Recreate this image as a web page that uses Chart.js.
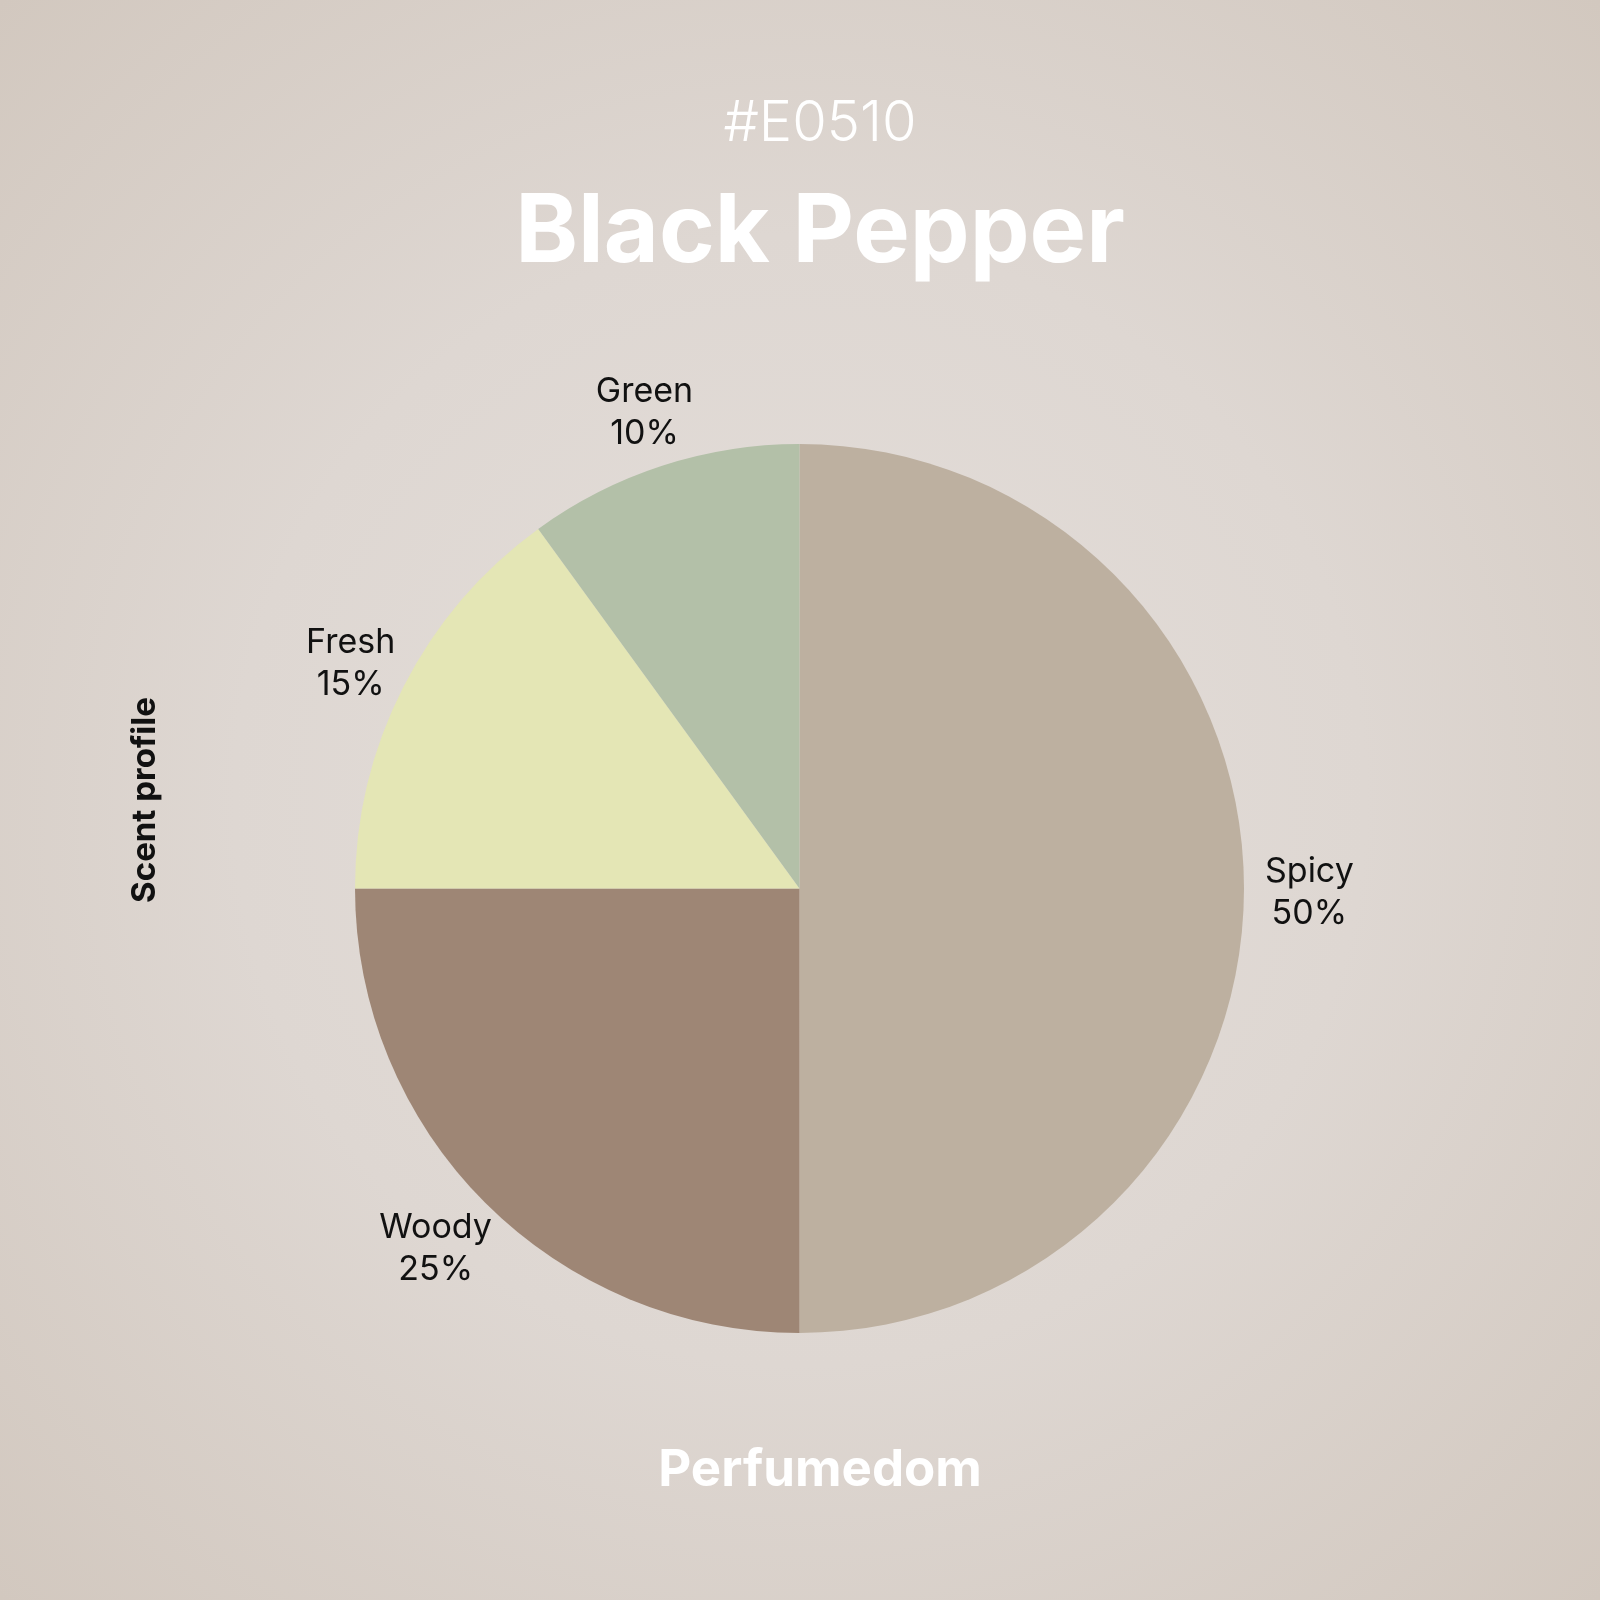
<!DOCTYPE html>
<html>
<head>
<meta charset="utf-8">
<script src="https://cdn.jsdelivr.net/npm/chart.js@4"></script>
<style>
  html, body { margin: 0; padding: 0; background: #ddd5cf; }
  #wrap { width: 1600px; height: 1600px; }
</style>
</head>
<body>
<div id="wrap"><canvas id="c" width="1600" height="1600"></canvas></div>
<script>
const categories = ["Spicy", "Woody", "Fresh", "Green"];
const values = [50, 25, 15, 10];
const sliceColors = ["#BDB0A0", "#9E8675", "#E4E6B5", "#B3C0A8"];
const codeText = "#E0510";
const titleText = "Black Pepper";
const axisText = "Scent profile";
const footerText = "Perfumedom";
const FONT = "Inter, 'Open Sans', sans-serif";

const bgPlugin = {
  id: "bg",
  beforeDraw(chart) {
    const { ctx, width, height } = chart;
    ctx.save();
    const g = ctx.createRadialGradient(800, 800, 0, 800, 800, 1130);
    g.addColorStop(0, "#E4DEDA");
    g.addColorStop(0.5, "#DED7D2");
    g.addColorStop(1, "#D2C8BF");
    ctx.fillStyle = g;
    ctx.fillRect(0, 0, width, height);
    ctx.restore();
  }
};

const textPlugin = {
  id: "texts",
  afterDraw(chart) {
    const { ctx } = chart;
    ctx.save();
    ctx.textAlign = "center";
    ctx.textBaseline = "alphabetic";
    ctx.fillStyle = "#FFFFFF";
    ctx.font = "300 56px " + FONT;
    ctx.fillText(codeText, 820, 141);
    ctx.font = "700 95px " + FONT;
    ctx.fillText(titleText, 820, 262);
    ctx.font = "700 51px " + FONT;
    ctx.fillText(footerText, 820, 1486);
    ctx.fillStyle = "#111111";
    ctx.font = "700 33px " + FONT;
    ctx.translate(155, 800);
    ctx.rotate(-Math.PI / 2);
    ctx.fillText(axisText, 0, 0);
    ctx.restore();
  }
};

const labelPlugin = {
  id: "sliceLabels",
  afterDatasetsDraw(chart) {
    const { ctx } = chart;
    const meta = chart.getDatasetMeta(0);
    const data = chart.data.datasets[0].data;
    const total = data.reduce((a, b) => a + b, 0);
    const fontSize = 34, lineH = 42, pad = 18;
    ctx.save();
    ctx.font = "400 " + fontSize + "px " + FONT;
    ctx.fillStyle = "#111111";
    ctx.textAlign = "center";
    ctx.textBaseline = "middle";
    meta.data.forEach((arc, i) => {
      const p = arc.getProps(["x", "y", "startAngle", "endAngle", "outerRadius"], true);
      const mid = (p.startAngle + p.endAngle) / 2;
      const c = Math.cos(mid), s = Math.sin(mid);
      const lines = [chart.data.labels[i], Math.round(data[i] / total * 100) + "%"];
      const w = Math.max(...lines.map(t => ctx.measureText(t).width));
      const h = lineH * lines.length;
      const ax = p.x + c * (p.outerRadius + pad);
      const ay = p.y + s * (p.outerRadius + pad);
      const cx = ax + c * w / 2 + 3;
      const cy = ay + s * h / 2 + 4;
      lines.forEach((t, k) => {
        ctx.fillText(t, cx, cy - h / 2 + lineH * (k + 0.5));
      });
    });
    ctx.restore();
  }
};

new Chart(document.getElementById("c"), {
  type: "pie",
  data: {
    labels: categories,
    datasets: [{
      data: values,
      backgroundColor: sliceColors,
      borderWidth: 0
    }]
  },
  options: {
    responsive: false,
    devicePixelRatio: 1,
    animation: false,
    layout: { padding: { top: 444, bottom: 267, left: 355, right: 356 } },
    plugins: {
      legend: { display: false },
      tooltip: { enabled: false },
      title: { display: false }
    }
  },
  plugins: [bgPlugin, labelPlugin, textPlugin]
});
</script>
</body>
</html>
